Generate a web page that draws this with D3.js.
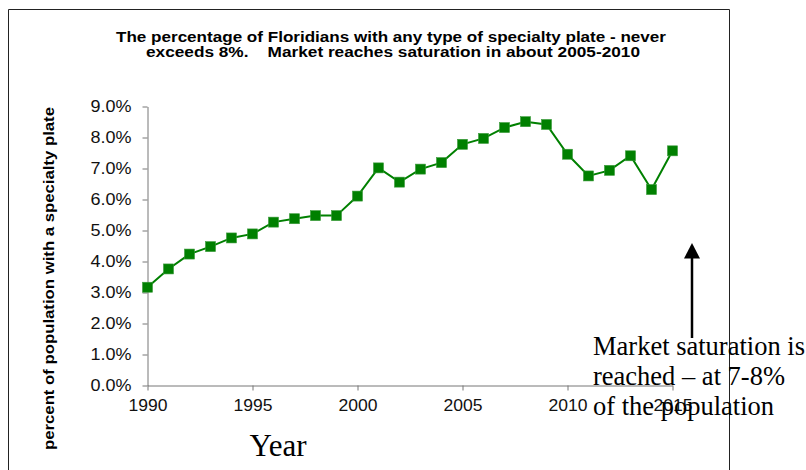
<!DOCTYPE html>
<html>
<head>
<meta charset="utf-8">
<script src="https://cdn.jsdelivr.net/npm/d3@7"></script>
<style>
  html, body { margin: 0; padding: 0; background: #fff; }
  svg { display: block; }
</style>
</head>
<body>
<div id="chart"></div>
<script>
// share of Floridians holding a specialty plate
var years = [1990, 1991, 1992, 1993, 1994, 1995, 1996, 1997, 1998, 1999, 2000, 2001, 2002,
  2003, 2004, 2005, 2006, 2007, 2008, 2009, 2010, 2011, 2012, 2013, 2014, 2015];
var share = [0.0317, 0.0376, 0.0424, 0.0448, 0.0476, 0.0489, 0.0527, 0.0538, 0.0548, 0.0548,
  0.0611, 0.0702, 0.0656, 0.0698, 0.0719, 0.0778, 0.0797, 0.0832, 0.0851, 0.0842,
  0.0746, 0.0676, 0.0694, 0.0741, 0.0632, 0.0757];
var xTicks = [1990, 1995, 2000, 2005, 2010, 2015];
var yTicks = [0, 0.01, 0.02, 0.03, 0.04, 0.05, 0.06, 0.07, 0.08, 0.09];
var titleLines = [
  'The percentage of Floridians with any type of specialty plate - never',
  'exceeds 8%.    Market reaches saturation in about 2005-2010'
];
var noteLines = ['Market saturation is', 'reached \u2013 at 7-8%', 'of the population'];

var width = 806, height = 470;
var green = '#008000';
var sans = 'Arial, "Liberation Sans", sans-serif';
var serif = '"Times New Roman", "Liberation Serif", serif';

var svg = d3.select('#chart').append('svg')
  .attr('width', width)
  .attr('height', height);

// chart frame (no bottom edge visible, it runs off the picture)
svg.append('path')
  .attr('d', 'M8.5,470V9.5H729.5V470')
  .attr('fill', 'none')
  .attr('stroke', '#222')
  .attr('stroke-width', 1);

var x = d3.scaleLinear().domain([1990, 2015]).range([147.5, 672.5]);
var y = d3.scaleLinear().domain([0, 0.09]).range([385.5, 106.5]);

// title
var title = svg.append('text')
  .attr('font-family', sans)
  .attr('font-weight', 'bold')
  .attr('font-size', 14)
  .attr('fill', '#000');
title.append('tspan').attr('x', 391).attr('y', 41.5)
  .attr('text-anchor', 'middle')
  .attr('textLength', 550).attr('lengthAdjust', 'spacingAndGlyphs')
  .text(titleLines[0]);
title.append('tspan').attr('x', 393).attr('y', 57)
  .attr('text-anchor', 'middle')
  .attr('textLength', 494).attr('lengthAdjust', 'spacingAndGlyphs')
  .style('white-space', 'pre')
  .text(titleLines[1]);

// axes
var yAxis = svg.append('g')
  .attr('transform', 'translate(' + x(1990) + ',0)')
  .call(d3.axisLeft(y).tickValues(yTicks).tickFormat(d3.format('.1%'))
    .tickSize(5).tickSizeOuter(0).tickPadding(11));

var xAxis = svg.append('g')
  .attr('transform', 'translate(0,' + y(0) + ')')
  .call(d3.axisBottom(x).tickValues(xTicks).tickFormat(d3.format('d'))
    .tickSize(5).tickSizeOuter(0).tickPadding(9));

[yAxis, xAxis].forEach(function (g) {
  g.select('.domain').attr('stroke', '#777');
  g.selectAll('.tick line').attr('stroke', '#777');
  g.selectAll('.tick text')
    .attr('fill', '#111')
    .attr('font-family', sans)
    .attr('font-size', 16);
});
yAxis.selectAll('.tick text')
  .attr('textLength', 41).attr('lengthAdjust', 'spacingAndGlyphs');
xAxis.selectAll('.tick text')
  .attr('textLength', 39).attr('lengthAdjust', 'spacingAndGlyphs');

// y axis title
svg.append('text')
  .attr('transform', 'translate(54,278.5) rotate(-90)')
  .attr('text-anchor', 'middle')
  .attr('font-family', sans)
  .attr('font-weight', 'bold')
  .attr('font-size', 15.5)
  .attr('textLength', 343).attr('lengthAdjust', 'spacingAndGlyphs')
  .text('percent of population with a specialty plate');

// x axis title
svg.append('text')
  .attr('x', 278)
  .attr('y', 456)
  .attr('text-anchor', 'middle')
  .attr('font-family', serif)
  .attr('font-size', 31)
  .text('Year');

// series
var points = years.map(function (yr, i) { return { year: yr, value: share[i] }; });

svg.append('path')
  .datum(points)
  .attr('fill', 'none')
  .attr('stroke', green)
  .attr('stroke-width', 2)
  .attr('d', d3.line()
    .x(function (d) { return x(d.year); })
    .y(function (d) { return y(d.value); }));

svg.selectAll('rect.marker')
  .data(points)
  .enter().append('rect')
  .attr('class', 'marker')
  .attr('x', function (d) { return x(d.year) - 5; })
  .attr('y', function (d) { return y(d.value) - 5; })
  .attr('width', 10)
  .attr('height', 10)
  .attr('fill', green)
  .attr('stroke', '#3a9a3a')
  .attr('stroke-width', 0.6);

// annotation arrow
svg.append('line')
  .attr('x1', 692).attr('y1', 338)
  .attr('x2', 692).attr('y2', 256)
  .attr('stroke', '#000')
  .attr('stroke-width', 2.5);
svg.append('path')
  .attr('d', 'M684,258.5L692,243L700,258.5Z')
  .attr('fill', '#000');

var note = svg.append('text')
  .attr('font-family', serif)
  .attr('font-size', 26.5)
  .attr('fill', '#000');
note.selectAll('tspan')
  .data(noteLines)
  .enter().append('tspan')
  .attr('x', 593)
  .attr('y', function (d, i) { return 355 + i * 30; })
  .text(function (d) { return d; });
</script>
</body>
</html>
